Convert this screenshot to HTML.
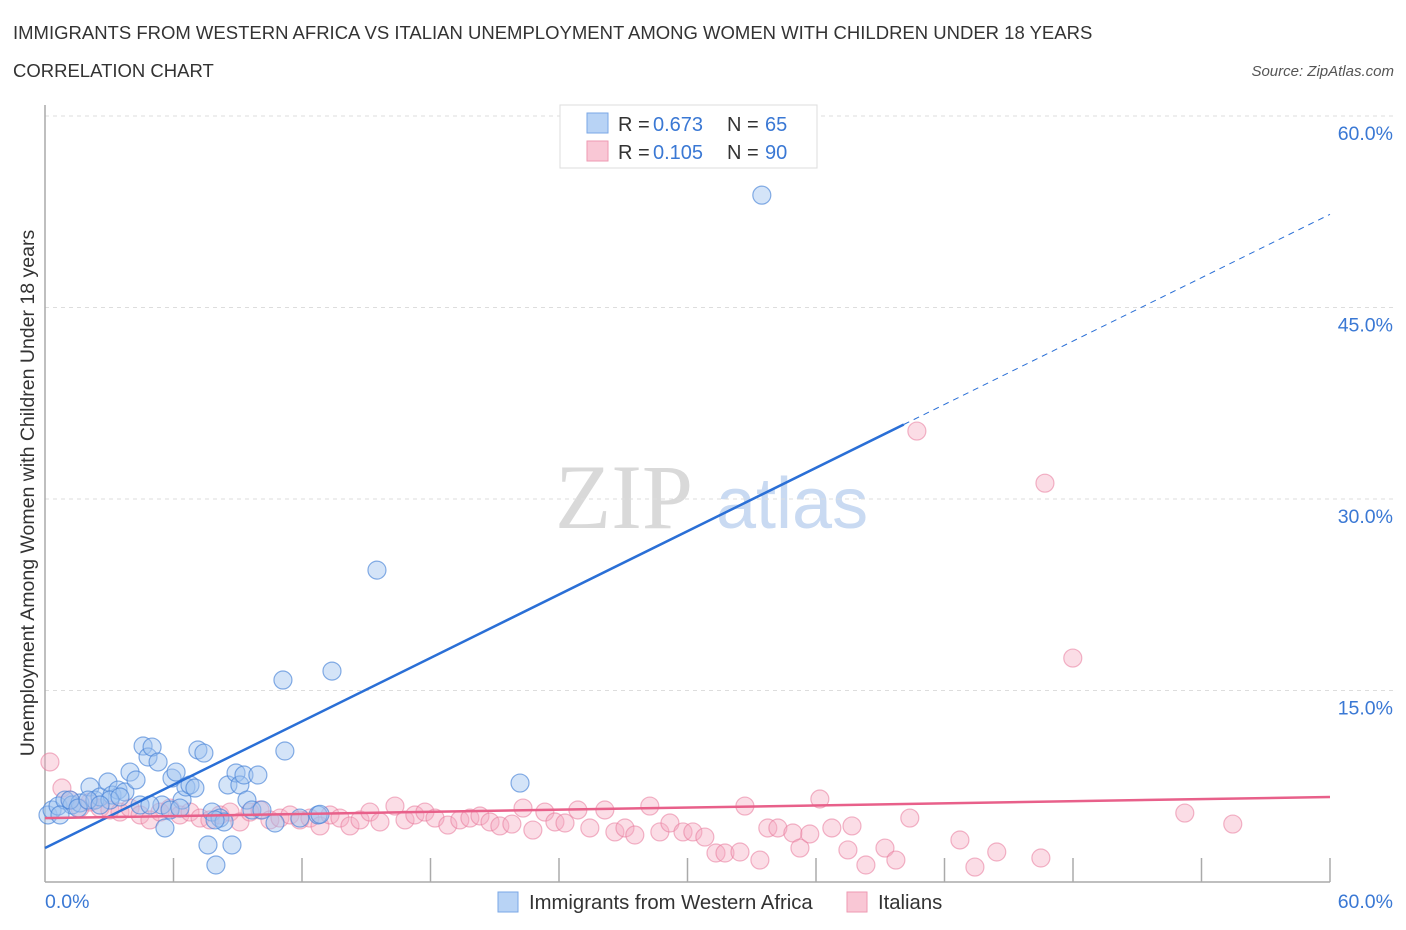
<!DOCTYPE html>
<html><head><meta charset="utf-8"><style>
body{margin:0;background:#fff;font-family:"Liberation Sans",sans-serif;}
svg{display:block}
</style></head><body>
<svg id="chart" width="1406" height="930" xmlns="http://www.w3.org/2000/svg">
<text x="13" y="39" font-size="18.5" fill="#333">IMMIGRANTS FROM WESTERN AFRICA VS ITALIAN UNEMPLOYMENT AMONG WOMEN WITH CHILDREN UNDER 18 YEARS</text>
<text x="13" y="77" font-size="18.5" fill="#333">CORRELATION CHART</text>
<text x="1394" y="76" font-size="15" fill="#555" font-style="italic" text-anchor="end">Source: ZipAtlas.com</text>
<g>
<text x="555" y="528" font-size="92" font-family="Liberation Serif,serif" fill="#d9d9d9">ZIP</text>
<text x="716" y="528" font-size="72" fill="#c9daf2">atlas</text>
</g>
<g id="grid"></g>
<g id="axes"></g>
<g id="pts"></g>
<g id="lines"></g>
<text transform="translate(34,493) rotate(-90)" font-size="19.5" fill="#333" text-anchor="middle">Unemployment Among Women with Children Under 18 years</text>
<g>
<rect x="560" y="105" width="257" height="63" fill="#fff" stroke="#ddd"/>
<rect x="587" y="113" width="21" height="20" fill="#b8d3f5" stroke="#7aa7e6"/>
<text x="618" y="131" font-size="20" fill="#333">R = </text><text x="653" y="131" font-size="20" fill="#3a78d4">0.673</text>
<text x="727" y="131" font-size="20" fill="#333">N = </text><text x="765" y="131" font-size="20" fill="#3a78d4">65</text>
<rect x="587" y="141" width="21" height="20" fill="#f9c7d5" stroke="#ee9ab2"/>
<text x="618" y="159" font-size="20" fill="#333">R = </text><text x="653" y="159" font-size="20" fill="#3a78d4">0.105</text>
<text x="727" y="159" font-size="20" fill="#333">N = </text><text x="765" y="159" font-size="20" fill="#3a78d4">90</text>
</g>
<g>
<rect x="498" y="892" width="20" height="20" fill="#b8d3f5" stroke="#7aa7e6"/>
<text x="529" y="909" font-size="20.3" fill="#333">Immigrants from Western Africa</text>
<rect x="847" y="892" width="20" height="20" fill="#f9c7d5" stroke="#ee9ab2"/>
<text x="878" y="909" font-size="20.3" fill="#333">Italians</text>
</g>
</svg>
<script>
const yTicks=[15,30,45,60];
const yTickLabels=["15.0%","30.0%","45.0%","60.0%"];
const xTickCount=10;
const blueX=[0.14,0.33,0.61,0.93,1.26,1.63,2.10,2.33,2.57,2.94,3.13,3.41,3.73,3.97,4.25,4.58,4.81,5.00,5.28,5.46,5.60,5.93,6.12,6.40,6.58,6.77,7.00,7.14,7.42,7.61,7.80,7.98,8.17,8.36,8.54,8.73,8.92,9.10,9.29,9.43,9.66,9.94,10.13,10.74,11.11,11.20,11.90,12.75,12.84,13.40,15.50,22.18,33.47,3.03,3.50,0.70,1.17,1.54,2.01,2.57,4.44,4.90,5.84,6.30,7.94];
const blueY=[5.25,5.64,5.95,6.42,6.03,6.19,7.44,6.42,6.66,7.83,6.81,7.20,7.05,8.61,7.99,10.65,9.79,10.57,9.40,6.03,4.23,8.14,8.61,6.42,7.44,7.60,7.36,10.34,10.10,2.90,5.48,1.33,5.01,4.70,7.60,2.90,8.54,7.60,8.38,6.42,5.64,8.38,5.64,4.62,15.82,10.26,5.01,5.25,5.3,16.52,24.43,7.75,53.80,6.42,6.66,5.25,6.42,5.79,6.42,6.03,6.03,6.03,5.64,5.79,4.86];
const pinkX=[0.23,0.79,1.17,1.63,2.10,2.57,3.03,3.50,3.97,4.44,4.90,5.37,5.84,6.30,6.77,7.24,7.70,8.17,8.64,9.10,9.57,10.04,10.50,10.97,11.44,11.90,12.37,12.84,13.31,13.77,14.24,14.71,15.17,15.64,16.34,16.81,17.27,17.74,18.21,18.81,19.37,19.84,20.31,20.78,21.24,21.80,22.32,22.78,23.34,23.81,24.28,24.88,25.44,26.14,26.61,27.08,27.54,28.24,28.71,29.18,29.79,30.25,30.81,31.33,31.75,32.45,32.68,33.38,33.75,34.22,34.92,35.25,35.71,36.18,36.74,37.49,37.68,38.33,39.22,39.73,40.38,40.71,42.72,43.42,44.44,46.50,46.69,47.99,53.22,55.46];
const pinkY=[9.40,7.36,6.42,5.79,6.26,5.79,5.64,5.48,5.79,5.25,4.86,5.48,5.79,5.25,5.48,5.01,4.86,5.25,5.48,4.70,5.48,5.64,4.86,5.01,5.25,4.86,5.01,4.39,5.25,5.01,4.39,4.86,5.48,4.70,5.95,4.86,5.25,5.48,5.01,4.46,4.86,5.01,5.17,4.70,4.39,4.54,5.79,4.07,5.48,4.70,4.62,5.64,4.23,5.64,3.92,4.23,3.68,5.95,3.92,4.62,3.92,3.92,3.52,2.27,2.27,2.35,5.95,1.72,4.23,4.23,3.84,2.66,3.76,6.50,4.23,2.51,4.39,1.33,2.66,1.72,5.01,35.32,3.29,1.17,2.35,1.88,31.24,17.54,5.40,4.54];
const blueTrend=[2.66,52.3];
const pinkTrend=[5.0,6.66];
const blueSolidEnd=40.1;

const NS="http://www.w3.org/2000/svg";
const X0=45,X1=1330,Y0=882,Y60=116;
const sx=v=>X0+(X1-X0)*v/60;
const sy=v=>Y0-(Y0-Y60)*v/60;
function mk(tag,attrs,parent){const e=document.createElementNS(NS,tag);for(const k in attrs)e.setAttribute(k,attrs[k]);parent.appendChild(e);return e;}
const grid=document.getElementById('grid'),axes=document.getElementById('axes'),pts=document.getElementById('pts'),lines=document.getElementById('lines');
yTicks.forEach((t,i)=>{
  const g=mk('line',{x1:X0,x2:1395,y1:sy(t),y2:sy(t),stroke:'#ddd','stroke-dasharray':'4,4'},grid);
  
  
  const tx=mk('text',{x:1393,y:sy(t)+24,'font-size':19.5,fill:'#3a78d4','text-anchor':'end'},axes);
  tx.textContent=yTickLabels[i];
  
  
});
const ax=mk('line',{x1:X0,x2:X1,y1:Y0,y2:Y0,stroke:'#aaa','stroke-width':1.5},axes);


const ay=mk('line',{x1:X0,x2:X0,y1:105,y2:Y0,stroke:'#aaa','stroke-width':1.5},axes);


for(let i=1;i<=xTickCount;i++){
  const v=60*i/xTickCount;
  const tk=mk('line',{x1:sx(v),x2:sx(v),y1:Y0-24,y2:Y0,stroke:'#aaa','stroke-width':1.5},axes);
  
  
}
const xl0=mk('text',{x:45,y:908,'font-size':19.5,fill:'#3a78d4'},axes);xl0.textContent='0.0%';


const xl1=mk('text',{x:1393,y:908,'font-size':19.5,fill:'#3a78d4','text-anchor':'end'},axes);xl1.textContent='60.0%';


pinkX.forEach((x,i)=>{
  const c=mk('circle',{cx:sx(x),cy:sy(pinkY[i]),r:9,fill:'rgba(246,170,192,0.4)',stroke:'rgba(232,120,155,0.55)','stroke-width':1.2},pts);
  
  
});
blueX.forEach((x,i)=>{
  const c=mk('circle',{cx:sx(x),cy:sy(blueY[i]),r:9,fill:'rgba(160,196,240,0.45)',stroke:'rgba(70,130,215,0.65)','stroke-width':1.2},pts);
  
  
});
const by=x=>blueTrend[0]+(blueTrend[1]-blueTrend[0])*x/60;
const bl=mk('line',{x1:sx(0),y1:sy(by(0)),x2:sx(blueSolidEnd),y2:sy(by(blueSolidEnd)),stroke:'#2a6fd6','stroke-width':2.5},lines);


const bd=mk('line',{x1:sx(blueSolidEnd),y1:sy(by(blueSolidEnd)),x2:sx(60),y2:sy(by(60)),stroke:'#2a6fd6','stroke-width':1,'stroke-dasharray':'6,5'},lines);


const pl=mk('line',{x1:sx(0),y1:sy(pinkTrend[0]),x2:sx(60),y2:sy(pinkTrend[1]),stroke:'#e8608a','stroke-width':2.5},lines);


</script>
</body></html>
